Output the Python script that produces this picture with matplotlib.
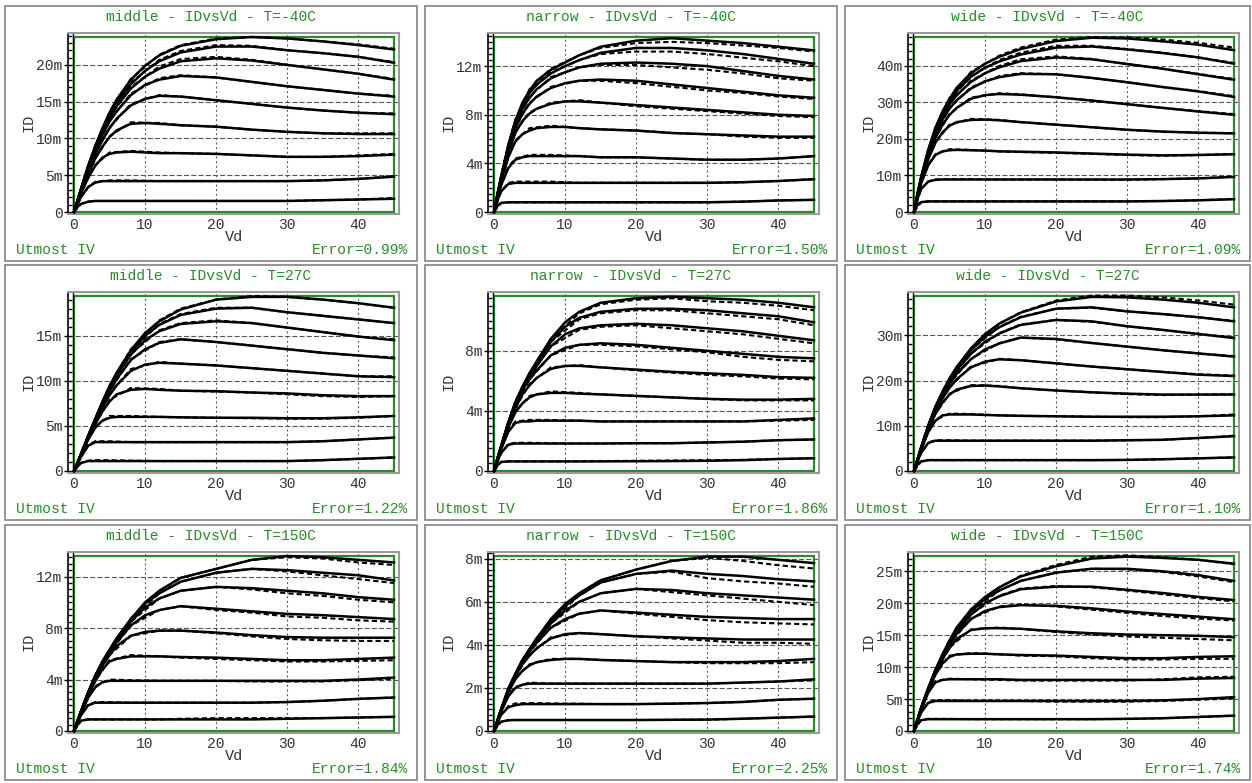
import matplotlib
matplotlib.use('Agg')
import matplotlib.pyplot as plt
from matplotlib.patches import Rectangle
from matplotlib.ticker import MultipleLocator

# Vd sample points (V) for the simulated and the measured curves
VD = [0, 0.5, 1, 2, 3, 4, 5, 6, 8, 10, 12, 15, 20, 25, 30, 35, 40, 45]
VD_MEAS = [0, 1, 2, 3, 5, 8, 12, 15, 20, 25, 30, 35, 40, 45]

# ID in mA, one list per gate step (top curve first)
MIDDLE_M40_SIM = [
    [0, 1.6, 3.2, 6.3, 9.0, 11.4, 13.5, 15.3, 18.0, 19.9, 21.3, 22.6, 23.5, 23.8, 23.6, 23.2, 22.7, 22.1],
    [0, 1.6, 3.2, 6.3, 8.9, 11.2, 13.2, 14.9, 17.4, 19.2, 20.5, 21.7, 22.5, 22.5, 22.0, 21.6, 21.1, 20.3],
    [0, 1.6, 3.1, 6.1, 8.7, 10.9, 12.8, 14.4, 16.8, 18.4, 19.5, 20.5, 20.9, 20.6, 20.0, 19.4, 18.8, 18.0],
    [0, 1.5, 3.0, 5.9, 8.4, 10.5, 12.3, 13.7, 15.9, 17.3, 18.0, 18.5, 18.3, 17.7, 17.1, 16.6, 16.1, 15.7],
    [0, 1.5, 2.9, 5.6, 7.9, 9.8, 11.4, 12.7, 14.5, 15.4, 15.8, 15.7, 15.2, 14.7, 14.2, 13.8, 13.5, 13.3],
    [0, 1.4, 2.8, 5.2, 7.3, 8.9, 10.2, 11.1, 12.0, 12.1, 12.0, 11.8, 11.6, 11.2, 10.9, 10.7, 10.6, 10.6],
    [0, 1.3, 2.6, 4.7, 6.3, 7.4, 7.9, 8.1, 8.2, 8.1, 8.0, 8.0, 7.9, 7.7, 7.5, 7.5, 7.6, 7.8],
    [0, 1.1, 2.1, 3.4, 4.0, 4.2, 4.2, 4.2, 4.2, 4.2, 4.2, 4.2, 4.2, 4.2, 4.2, 4.3, 4.5, 4.8],
    [0, 0.7, 1.1, 1.4, 1.5, 1.5, 1.5, 1.5, 1.5, 1.5, 1.5, 1.5, 1.5, 1.5, 1.5, 1.6, 1.7, 1.8],
]
MIDDLE_M40_MEAS = [
    [0, 3.1, 6.2, 9.0, 13.6, 18.1, 21.4, 22.7, 23.6, 23.8, 23.6, 23.2, 22.8, 22.2],
    [0, 3.1, 6.2, 8.9, 13.3, 17.6, 20.7, 21.9, 22.7, 22.6, 22.0, 21.6, 21.1, 20.4],
    [0, 3.0, 6.0, 8.7, 12.9, 17.0, 19.8, 20.8, 21.1, 20.7, 20.0, 19.4, 18.8, 18.1],
    [0, 2.9, 5.8, 8.4, 12.4, 16.1, 18.2, 18.6, 18.3, 17.7, 17.1, 16.6, 16.1, 15.8],
    [0, 2.8, 5.5, 7.9, 11.5, 14.7, 15.9, 15.7, 15.2, 14.7, 14.2, 13.8, 13.5, 13.4],
    [0, 2.7, 5.1, 7.3, 10.3, 12.2, 12.1, 11.8, 11.6, 11.2, 10.9, 10.7, 10.7, 10.7],
    [0, 2.5, 4.6, 6.4, 8.1, 8.3, 8.1, 8.0, 7.9, 7.7, 7.5, 7.5, 7.7, 7.9],
    [0, 2.0, 3.4, 4.1, 4.3, 4.3, 4.2, 4.2, 4.2, 4.2, 4.2, 4.3, 4.5, 4.9],
    [0, 1.1, 1.4, 1.5, 1.5, 1.5, 1.5, 1.5, 1.5, 1.5, 1.5, 1.6, 1.7, 1.9],
]

NARROW_M40_SIM = [
    [0, 1.5, 2.9, 5.5, 7.5, 9.0, 10.0, 10.8, 11.7, 12.3, 12.9, 13.6, 14.1, 14.3, 14.1, 13.9, 13.6, 13.3],
    [0, 1.5, 2.9, 5.4, 7.4, 8.8, 9.8, 10.5, 11.4, 12.0, 12.5, 13.1, 13.5, 13.5, 13.3, 13.0, 12.6, 12.2],
    [0, 1.5, 2.8, 5.3, 7.2, 8.5, 9.4, 10.1, 11.0, 11.5, 11.9, 12.2, 12.3, 12.2, 12.0, 11.6, 11.2, 10.9],
    [0, 1.4, 2.8, 5.1, 6.9, 8.1, 8.9, 9.5, 10.2, 10.6, 10.8, 10.9, 10.8, 10.5, 10.2, 9.9, 9.6, 9.4],
    [0, 1.4, 2.7, 4.9, 6.5, 7.5, 8.1, 8.5, 8.9, 9.1, 9.1, 9.0, 8.8, 8.6, 8.4, 8.2, 8.0, 7.9],
    [0, 1.3, 2.5, 4.5, 5.8, 6.4, 6.7, 6.9, 7.0, 7.0, 6.9, 6.8, 6.7, 6.5, 6.4, 6.3, 6.2, 6.2],
    [0, 1.2, 2.2, 3.6, 4.3, 4.5, 4.6, 4.6, 4.6, 4.6, 4.6, 4.5, 4.5, 4.4, 4.3, 4.3, 4.4, 4.6],
    [0, 1.0, 1.7, 2.3, 2.4, 2.4, 2.4, 2.4, 2.4, 2.4, 2.4, 2.4, 2.4, 2.4, 2.4, 2.45, 2.55, 2.7],
    [0, 0.5, 0.75, 0.8, 0.8, 0.8, 0.8, 0.8, 0.8, 0.8, 0.8, 0.8, 0.8, 0.8, 0.8, 0.85, 0.95, 1.0],
]
NARROW_M40_MEAS = [
    [0, 2.9, 5.5, 7.6, 10.1, 11.8, 12.9, 13.5, 13.9, 14.0, 13.9, 13.7, 13.5, 13.2],
    [0, 2.9, 5.4, 7.5, 9.9, 11.5, 12.5, 13.0, 13.2, 13.2, 13.0, 12.7, 12.4, 12.0],
    [0, 2.8, 5.3, 7.3, 9.5, 11.1, 11.9, 12.1, 12.1, 11.9, 11.7, 11.4, 11.0, 10.8],
    [0, 2.8, 5.1, 7.0, 9.0, 10.3, 10.8, 10.8, 10.6, 10.3, 10.0, 9.8, 9.5, 9.3],
    [0, 2.7, 4.9, 6.6, 8.2, 9.0, 9.2, 9.0, 8.7, 8.5, 8.3, 8.1, 7.9, 7.8],
    [0, 2.5, 4.5, 5.9, 6.9, 7.1, 6.9, 6.8, 6.7, 6.5, 6.4, 6.2, 6.1, 6.1],
    [0, 2.2, 3.7, 4.4, 4.7, 4.7, 4.6, 4.5, 4.5, 4.4, 4.3, 4.3, 4.4, 4.6],
    [0, 1.7, 2.4, 2.5, 2.5, 2.5, 2.4, 2.4, 2.4, 2.4, 2.4, 2.45, 2.55, 2.7],
    [0, 0.75, 0.8, 0.8, 0.8, 0.8, 0.8, 0.8, 0.8, 0.8, 0.8, 0.85, 0.95, 1.0],
]

WIDE_M40_SIM = [
    [0, 5.0, 9.5, 17.0, 23.0, 27.5, 31.0, 34.0, 38.0, 40.6, 42.5, 44.6, 46.8, 47.7, 47.5, 46.7, 45.8, 44.3],
    [0, 5.0, 9.4, 16.8, 22.6, 27.0, 30.4, 33.2, 37.0, 39.5, 41.2, 43.1, 45.0, 45.3, 44.5, 43.5, 42.3, 40.6],
    [0, 5.0, 9.3, 16.5, 22.0, 26.3, 29.5, 32.0, 35.6, 38.0, 39.6, 41.3, 42.3, 41.8, 40.5, 39.2, 37.7, 36.2],
    [0, 4.8, 9.1, 16.0, 21.3, 25.3, 28.3, 30.6, 33.8, 35.8, 36.9, 37.8, 37.7, 36.7, 35.5, 34.2, 33.0, 31.5],
    [0, 4.7, 8.9, 15.4, 20.3, 23.9, 26.6, 28.5, 31.0, 32.0, 32.3, 32.1, 31.4, 30.5, 29.5, 28.5, 27.5, 26.6],
    [0, 4.5, 8.5, 14.5, 18.9, 21.8, 23.6, 24.6, 25.2, 25.3, 25.1, 24.6, 23.9, 23.2, 22.5, 22.0, 21.7, 21.5],
    [0, 4.3, 7.9, 12.8, 15.6, 16.6, 16.9, 17.0, 16.9, 16.8, 16.6, 16.5, 16.3, 16.0, 15.7, 15.5, 15.6, 15.8],
    [0, 3.7, 6.3, 8.3, 8.8, 8.9, 8.9, 8.9, 8.9, 8.9, 8.9, 8.9, 8.9, 8.9, 8.9, 9.0, 9.2, 9.6],
    [0, 2.0, 2.7, 2.9, 2.9, 2.9, 2.9, 2.9, 2.9, 2.9, 2.9, 2.9, 2.9, 2.9, 2.9, 3.0, 3.2, 3.5],
]
WIDE_M40_MEAS = [
    [0, 9.4, 16.9, 23.0, 31.2, 38.3, 42.8, 45.0, 47.2, 47.9, 47.8, 47.2, 46.3, 45.0],
    [0, 9.3, 16.7, 22.6, 30.6, 37.3, 41.6, 43.6, 45.5, 45.5, 44.6, 43.6, 42.3, 40.8],
    [0, 9.2, 16.4, 22.0, 29.7, 36.0, 40.0, 41.8, 42.6, 41.9, 40.5, 39.2, 37.8, 36.4],
    [0, 9.0, 15.9, 21.3, 28.5, 34.1, 37.2, 38.0, 37.7, 36.7, 35.5, 34.2, 33.1, 31.7],
    [0, 8.8, 15.3, 20.3, 26.8, 31.3, 32.5, 32.2, 31.4, 30.5, 29.5, 28.5, 27.6, 26.8],
    [0, 8.4, 14.5, 19.0, 23.9, 25.5, 25.2, 24.6, 23.9, 23.2, 22.5, 22.0, 21.7, 21.6],
    [0, 7.8, 12.9, 15.8, 17.2, 17.0, 16.6, 16.4, 16.2, 15.9, 15.6, 15.4, 15.6, 15.9],
    [0, 6.3, 8.4, 8.9, 9.0, 9.0, 8.9, 8.9, 8.9, 8.8, 8.8, 9.0, 9.2, 9.7],
    [0, 2.7, 2.9, 2.9, 2.9, 2.9, 2.9, 2.9, 2.9, 2.9, 2.9, 3.0, 3.2, 3.6],
]

MIDDLE_27_SIM = [
    [0, 0.95, 1.9, 3.9, 5.8, 7.7, 9.4, 10.9, 13.4, 15.3, 16.6, 17.9, 19.0, 19.3, 19.3, 19.0, 18.6, 18.1],
    [0, 0.95, 1.9, 3.9, 5.8, 7.6, 9.3, 10.8, 13.2, 15.0, 16.2, 17.3, 18.0, 18.1, 17.6, 17.2, 16.8, 16.4],
    [0, 0.95, 1.9, 3.9, 5.7, 7.5, 9.1, 10.6, 12.9, 14.5, 15.5, 16.3, 16.6, 16.4, 15.9, 15.4, 14.9, 14.5],
    [0, 0.95, 1.9, 3.8, 5.6, 7.3, 8.8, 10.2, 12.3, 13.5, 14.2, 14.6, 14.3, 13.9, 13.5, 13.1, 12.8, 12.5],
    [0, 0.9, 1.85, 3.7, 5.4, 7.0, 8.4, 9.5, 11.1, 11.8, 12.0, 11.9, 11.7, 11.4, 11.1, 10.8, 10.5, 10.4],
    [0, 0.9, 1.8, 3.6, 5.2, 6.6, 7.7, 8.5, 9.0, 9.1, 9.0, 8.9, 8.85, 8.7, 8.6, 8.4, 8.3, 8.3],
    [0, 0.9, 1.8, 3.5, 4.8, 5.6, 5.9, 6.0, 6.0, 6.0, 6.0, 5.95, 5.9, 5.9, 5.85, 5.85, 5.95, 6.1],
    [0, 0.8, 1.6, 2.8, 3.2, 3.2, 3.2, 3.2, 3.2, 3.2, 3.2, 3.2, 3.2, 3.2, 3.2, 3.3, 3.5, 3.7],
    [0, 0.5, 0.9, 1.1, 1.1, 1.1, 1.1, 1.1, 1.1, 1.1, 1.1, 1.1, 1.1, 1.1, 1.1, 1.2, 1.35, 1.5],
]
MIDDLE_27_MEAS = [
    [0, 1.9, 3.9, 5.8, 9.5, 13.5, 16.7, 18.0, 19.0, 19.4, 19.3, 19.0, 18.6, 18.1],
    [0, 1.9, 3.9, 5.8, 9.4, 13.3, 16.3, 17.4, 18.1, 18.1, 17.6, 17.2, 16.8, 16.4],
    [0, 1.9, 3.9, 5.7, 9.2, 13.0, 15.6, 16.4, 16.7, 16.4, 15.9, 15.4, 14.9, 14.6],
    [0, 1.9, 3.8, 5.6, 8.9, 12.4, 14.3, 14.6, 14.3, 13.9, 13.5, 13.1, 12.8, 12.6],
    [0, 1.85, 3.7, 5.5, 8.6, 11.3, 12.1, 11.9, 11.7, 11.4, 11.1, 10.8, 10.5, 10.5],
    [0, 1.8, 3.6, 5.3, 7.9, 9.2, 9.1, 8.9, 8.8, 8.7, 8.5, 8.3, 8.2, 8.3],
    [0, 1.8, 3.5, 4.9, 6.1, 6.1, 6.0, 5.95, 5.9, 5.85, 5.8, 5.8, 5.9, 6.1],
    [0, 1.6, 2.9, 3.3, 3.3, 3.2, 3.2, 3.2, 3.2, 3.2, 3.2, 3.3, 3.5, 3.7],
    [0, 0.9, 1.15, 1.2, 1.2, 1.15, 1.1, 1.1, 1.1, 1.1, 1.1, 1.2, 1.35, 1.5],
]

NARROW_27_SIM = [
    [0, 0.85, 1.65, 3.2, 4.6, 5.6, 6.5, 7.3, 8.8, 9.9, 10.6, 11.2, 11.5, 11.6, 11.5, 11.4, 11.2, 10.9],
    [0, 0.85, 1.65, 3.2, 4.5, 5.6, 6.5, 7.2, 8.6, 9.6, 10.2, 10.6, 10.8, 10.8, 10.7, 10.5, 10.3, 9.9],
    [0, 0.85, 1.65, 3.2, 4.5, 5.5, 6.3, 7.0, 8.3, 9.1, 9.5, 9.7, 9.8, 9.7, 9.5, 9.3, 9.0, 8.7],
    [0, 0.85, 1.6, 3.1, 4.4, 5.4, 6.1, 6.7, 7.7, 8.2, 8.4, 8.5, 8.4, 8.2, 8.0, 7.8, 7.6, 7.5],
    [0, 0.8, 1.6, 3.0, 4.2, 5.1, 5.7, 6.2, 6.8, 7.0, 7.0, 6.9, 6.75, 6.6, 6.5, 6.4, 6.25, 6.2],
    [0, 0.8, 1.55, 2.9, 3.9, 4.5, 4.9, 5.1, 5.2, 5.2, 5.15, 5.1, 5.0, 4.9, 4.8, 4.75, 4.75, 4.8],
    [0, 0.75, 1.45, 2.6, 3.2, 3.3, 3.3, 3.35, 3.35, 3.35, 3.35, 3.3, 3.3, 3.3, 3.3, 3.3, 3.4, 3.5],
    [0, 0.7, 1.2, 1.75, 1.83, 1.83, 1.83, 1.83, 1.83, 1.83, 1.83, 1.83, 1.85, 1.85, 1.9, 1.95, 2.05, 2.1],
    [0, 0.4, 0.6, 0.64, 0.64, 0.64, 0.64, 0.64, 0.64, 0.64, 0.64, 0.64, 0.65, 0.66, 0.68, 0.72, 0.8, 0.85],
]
NARROW_27_MEAS = [
    [0, 1.65, 3.2, 4.6, 6.5, 8.8, 10.5, 11.1, 11.4, 11.5, 11.3, 11.2, 11.0, 10.7],
    [0, 1.65, 3.2, 4.5, 6.5, 8.6, 10.1, 10.5, 10.7, 10.7, 10.5, 10.3, 10.1, 9.7],
    [0, 1.65, 3.2, 4.5, 6.3, 8.3, 9.4, 9.6, 9.7, 9.5, 9.3, 9.1, 8.8, 8.5],
    [0, 1.6, 3.1, 4.4, 6.1, 7.7, 8.4, 8.4, 8.3, 8.1, 7.9, 7.6, 7.4, 7.3],
    [0, 1.6, 3.0, 4.2, 5.8, 6.9, 7.05, 6.9, 6.7, 6.55, 6.4, 6.3, 6.15, 6.1],
    [0, 1.55, 2.9, 4.0, 5.0, 5.3, 5.2, 5.1, 5.0, 4.9, 4.8, 4.7, 4.7, 4.7],
    [0, 1.45, 2.7, 3.3, 3.4, 3.4, 3.35, 3.3, 3.3, 3.3, 3.3, 3.3, 3.35, 3.4],
    [0, 1.2, 1.8, 1.88, 1.88, 1.85, 1.83, 1.83, 1.85, 1.85, 1.9, 1.95, 2.05, 2.1],
    [0, 0.6, 0.64, 0.64, 0.64, 0.64, 0.64, 0.66, 0.68, 0.7, 0.72, 0.74, 0.8, 0.85],
]

WIDE_27_SIM = [
    [0, 2.6, 5.2, 10.0, 14.2, 17.5, 20.5, 23.0, 27.1, 30.3, 32.6, 35.0, 37.5, 38.5, 38.4, 37.9, 37.2, 36.2],
    [0, 2.6, 5.2, 10.0, 14.1, 17.4, 20.3, 22.8, 26.7, 29.7, 31.8, 34.0, 35.9, 36.2, 35.3, 34.7, 34.0, 33.1],
    [0, 2.6, 5.1, 9.9, 13.9, 17.1, 19.9, 22.3, 25.9, 28.6, 30.4, 32.3, 33.4, 33.1, 32.0, 31.2, 30.3, 29.4],
    [0, 2.6, 5.1, 9.7, 13.6, 16.7, 19.3, 21.5, 24.7, 26.9, 28.2, 29.5, 29.2, 28.3, 27.5, 26.7, 26.0, 25.3],
    [0, 2.5, 5.0, 9.5, 13.2, 16.1, 18.4, 20.3, 22.9, 24.2, 24.7, 24.5, 23.8, 23.1, 22.5, 21.9, 21.3, 21.0],
    [0, 2.5, 4.9, 9.2, 12.6, 15.1, 16.9, 18.0, 18.8, 18.9, 18.7, 18.3, 17.8, 17.4, 17.1, 16.9, 16.9, 16.9],
    [0, 2.4, 4.7, 8.6, 11.1, 12.3, 12.5, 12.5, 12.5, 12.4, 12.3, 12.2, 12.1, 12.0, 12.0, 12.0, 12.1, 12.3],
    [0, 2.2, 4.0, 6.2, 6.7, 6.7, 6.7, 6.7, 6.7, 6.7, 6.7, 6.7, 6.7, 6.7, 6.8, 6.9, 7.3, 7.7],
    [0, 1.4, 2.1, 2.4, 2.4, 2.4, 2.4, 2.4, 2.4, 2.4, 2.4, 2.4, 2.4, 2.4, 2.45, 2.6, 2.8, 3.0],
]
WIDE_27_MEAS = [
    [0, 5.2, 10.0, 14.2, 20.5, 27.1, 32.6, 35.1, 37.7, 38.8, 38.8, 38.4, 37.7, 36.8],
    [0, 5.2, 10.0, 14.1, 20.3, 26.8, 31.9, 34.1, 35.9, 36.1, 35.3, 34.7, 34.0, 33.2],
    [0, 5.1, 9.9, 13.9, 20.0, 26.0, 30.5, 32.4, 33.4, 33.0, 32.0, 31.2, 30.3, 29.5],
    [0, 5.1, 9.7, 13.6, 19.4, 24.8, 28.3, 29.5, 29.1, 28.3, 27.5, 26.7, 26.0, 25.4],
    [0, 5.0, 9.5, 13.3, 18.6, 23.1, 24.8, 24.5, 23.8, 23.1, 22.5, 21.9, 21.4, 21.1],
    [0, 4.9, 9.2, 12.7, 17.1, 19.0, 18.8, 18.3, 17.8, 17.4, 17.0, 16.8, 16.9, 17.0],
    [0, 4.7, 8.7, 11.3, 12.7, 12.6, 12.3, 12.2, 12.1, 12.0, 11.9, 11.9, 12.1, 12.5],
    [0, 4.0, 6.3, 6.8, 6.8, 6.7, 6.7, 6.7, 6.7, 6.7, 6.8, 6.9, 7.3, 7.8],
    [0, 2.1, 2.4, 2.4, 2.4, 2.4, 2.4, 2.4, 2.4, 2.4, 2.45, 2.6, 2.8, 3.0],
]

MIDDLE_150_SIM = [
    [0, 0.78, 1.55, 3.0, 4.3, 5.4, 6.3, 7.2, 8.7, 10.0, 10.9, 11.9, 12.6, 13.3, 13.6, 13.5, 13.3, 13.1],
    [0, 0.78, 1.55, 3.0, 4.3, 5.4, 6.3, 7.2, 8.7, 9.9, 10.7, 11.6, 12.3, 12.6, 12.5, 12.3, 12.1, 11.7],
    [0, 0.78, 1.55, 3.0, 4.3, 5.3, 6.2, 7.1, 8.5, 9.6, 10.3, 10.9, 11.2, 11.1, 10.9, 10.7, 10.4, 10.2],
    [0, 0.78, 1.55, 3.0, 4.2, 5.2, 6.1, 6.9, 8.2, 9.0, 9.4, 9.7, 9.5, 9.3, 9.1, 9.0, 8.85, 8.7],
    [0, 0.78, 1.5, 2.9, 4.1, 5.1, 5.9, 6.6, 7.4, 7.7, 7.8, 7.8, 7.65, 7.45, 7.3, 7.25, 7.25, 7.25],
    [0, 0.75, 1.5, 2.8, 3.9, 4.8, 5.4, 5.6, 5.8, 5.8, 5.8, 5.75, 5.7, 5.6, 5.5, 5.5, 5.6, 5.7],
    [0, 0.7, 1.4, 2.6, 3.4, 3.8, 3.9, 3.9, 3.9, 3.9, 3.9, 3.9, 3.9, 3.9, 3.9, 3.9, 4.0, 4.15],
    [0, 0.65, 1.25, 2.0, 2.2, 2.2, 2.2, 2.2, 2.2, 2.2, 2.2, 2.2, 2.2, 2.2, 2.25, 2.35, 2.5, 2.6],
    [0, 0.5, 0.8, 0.9, 0.9, 0.9, 0.9, 0.9, 0.9, 0.9, 0.9, 0.9, 0.9, 0.9, 0.95, 1.0, 1.05, 1.1],
]
MIDDLE_150_MEAS = [
    [0, 1.55, 3.0, 4.3, 6.3, 8.7, 10.9, 11.9, 12.6, 13.3, 13.5, 13.4, 13.1, 12.9],
    [0, 1.55, 3.0, 4.3, 6.3, 8.7, 10.7, 11.6, 12.3, 12.6, 12.4, 12.1, 11.8, 11.5],
    [0, 1.55, 3.0, 4.3, 6.2, 8.5, 10.3, 10.9, 11.2, 11.0, 10.7, 10.5, 10.2, 10.0],
    [0, 1.55, 3.0, 4.2, 6.1, 8.2, 9.4, 9.7, 9.4, 9.2, 8.9, 8.8, 8.6, 8.5],
    [0, 1.5, 2.9, 4.1, 5.9, 7.4, 7.8, 7.8, 7.6, 7.35, 7.15, 7.05, 7.0, 7.0],
    [0, 1.5, 2.8, 3.9, 5.5, 5.9, 5.8, 5.7, 5.6, 5.5, 5.4, 5.4, 5.45, 5.5],
    [0, 1.4, 2.6, 3.5, 4.0, 3.95, 3.9, 3.9, 3.9, 3.85, 3.85, 3.85, 3.95, 4.05],
    [0, 1.25, 2.05, 2.25, 2.25, 2.2, 2.2, 2.2, 2.2, 2.2, 2.25, 2.35, 2.5, 2.6],
    [0, 0.8, 0.9, 0.9, 0.9, 0.9, 0.9, 0.95, 1.0, 1.0, 1.0, 1.0, 1.05, 1.1],
]

NARROW_150_SIM = [
    [0, 0.5, 1.0, 1.95, 2.65, 3.3, 3.8, 4.3, 5.2, 5.9, 6.4, 7.0, 7.5, 7.9, 8.1, 8.1, 7.95, 7.8],
    [0, 0.5, 1.0, 1.95, 2.65, 3.3, 3.8, 4.3, 5.1, 5.8, 6.3, 6.9, 7.3, 7.45, 7.3, 7.2, 7.05, 6.95],
    [0, 0.5, 1.0, 1.9, 2.6, 3.2, 3.75, 4.2, 5.0, 5.6, 6.0, 6.4, 6.6, 6.55, 6.4, 6.3, 6.2, 6.1],
    [0, 0.5, 1.0, 1.9, 2.6, 3.2, 3.7, 4.1, 4.8, 5.2, 5.45, 5.6, 5.5, 5.4, 5.3, 5.25, 5.2, 5.2],
    [0, 0.5, 0.98, 1.85, 2.55, 3.1, 3.5, 3.85, 4.3, 4.5, 4.55, 4.5, 4.4, 4.35, 4.3, 4.25, 4.25, 4.25],
    [0, 0.48, 0.95, 1.8, 2.4, 2.8, 3.05, 3.2, 3.3, 3.35, 3.35, 3.3, 3.25, 3.2, 3.2, 3.2, 3.25, 3.35],
    [0, 0.45, 0.9, 1.6, 2.0, 2.15, 2.2, 2.2, 2.2, 2.2, 2.2, 2.2, 2.2, 2.2, 2.2, 2.25, 2.3, 2.4],
    [0, 0.4, 0.75, 1.1, 1.2, 1.25, 1.25, 1.25, 1.25, 1.25, 1.25, 1.25, 1.25, 1.27, 1.3, 1.35, 1.45, 1.5],
    [0, 0.28, 0.43, 0.5, 0.51, 0.51, 0.51, 0.51, 0.51, 0.51, 0.51, 0.51, 0.51, 0.52, 0.53, 0.57, 0.62, 0.67],
]
NARROW_150_MEAS = [
    [0, 1.0, 1.95, 2.65, 3.8, 5.2, 6.4, 7.0, 7.5, 7.9, 8.05, 7.9, 7.7, 7.55],
    [0, 1.0, 1.95, 2.65, 3.8, 5.1, 6.3, 6.9, 7.3, 7.4, 7.1, 6.95, 6.85, 6.7],
    [0, 1.0, 1.9, 2.6, 3.75, 5.0, 6.0, 6.4, 6.6, 6.45, 6.3, 6.15, 6.0, 5.85],
    [0, 1.0, 1.9, 2.6, 3.7, 4.8, 5.45, 5.6, 5.45, 5.3, 5.15, 5.05, 5.0, 4.95],
    [0, 0.98, 1.85, 2.55, 3.55, 4.35, 4.55, 4.5, 4.4, 4.3, 4.2, 4.1, 4.1, 4.05],
    [0, 0.95, 1.8, 2.45, 3.1, 3.35, 3.35, 3.3, 3.25, 3.2, 3.15, 3.15, 3.15, 3.2],
    [0, 0.9, 1.65, 2.05, 2.25, 2.2, 2.2, 2.2, 2.2, 2.2, 2.2, 2.25, 2.3, 2.35],
    [0, 0.75, 1.15, 1.28, 1.3, 1.28, 1.27, 1.25, 1.25, 1.27, 1.3, 1.35, 1.45, 1.5],
    [0, 0.43, 0.5, 0.51, 0.51, 0.51, 0.51, 0.51, 0.51, 0.52, 0.53, 0.57, 0.62, 0.67],
]

WIDE_150_SIM = [
    [0, 1.8, 3.6, 6.7, 9.5, 12.0, 14.2, 16.2, 19.0, 21.0, 22.5, 24.2, 25.8, 27.0, 27.3, 27.1, 26.8, 26.2],
    [0, 1.8, 3.6, 6.7, 9.5, 11.9, 14.0, 15.9, 18.7, 20.7, 22.0, 23.5, 24.8, 25.4, 25.4, 25.0, 24.4, 23.5],
    [0, 1.8, 3.6, 6.6, 9.4, 11.8, 13.8, 15.6, 18.2, 20.0, 21.1, 22.2, 22.6, 22.6, 22.1, 21.6, 21.0, 20.5],
    [0, 1.8, 3.6, 6.6, 9.3, 11.6, 13.5, 15.2, 17.5, 18.8, 19.4, 19.7, 19.6, 19.2, 18.7, 18.3, 17.9, 17.5],
    [0, 1.8, 3.5, 6.5, 9.1, 11.3, 13.0, 14.4, 15.8, 16.1, 16.1, 16.0, 15.6, 15.3, 15.1, 15.0, 14.9, 14.7],
    [0, 1.75, 3.4, 6.3, 8.8, 10.6, 11.6, 12.0, 12.1, 12.1, 12.0, 11.9, 11.8, 11.6, 11.4, 11.4, 11.6, 11.7],
    [0, 1.7, 3.3, 6.0, 7.6, 8.0, 8.1, 8.1, 8.1, 8.1, 8.1, 8.0, 8.0, 8.0, 8.0, 8.0, 8.2, 8.3],
    [0, 1.5, 2.9, 4.4, 4.7, 4.7, 4.7, 4.7, 4.7, 4.7, 4.7, 4.7, 4.7, 4.7, 4.7, 4.8, 5.0, 5.3],
    [0, 1.1, 1.7, 1.85, 1.85, 1.85, 1.85, 1.85, 1.85, 1.85, 1.85, 1.85, 1.85, 1.85, 1.9, 2.0, 2.2, 2.4],
]
WIDE_150_MEAS = [
    [0, 3.6, 6.7, 9.5, 14.2, 19.0, 22.5, 24.3, 26.0, 27.3, 27.5, 27.2, 26.8, 26.1],
    [0, 3.6, 6.7, 9.5, 14.0, 18.7, 22.0, 23.5, 24.8, 25.4, 25.3, 24.9, 24.2, 23.3],
    [0, 3.6, 6.6, 9.4, 13.8, 18.3, 21.2, 22.3, 22.7, 22.5, 22.0, 21.4, 20.8, 20.3],
    [0, 3.6, 6.6, 9.3, 13.6, 17.6, 19.5, 19.8, 19.5, 19.0, 18.5, 18.0, 17.6, 17.3],
    [0, 3.5, 6.5, 9.1, 13.1, 15.9, 16.2, 16.0, 15.5, 15.1, 14.8, 14.6, 14.4, 14.2],
    [0, 3.4, 6.3, 8.9, 11.8, 12.2, 12.0, 11.8, 11.7, 11.4, 11.2, 11.2, 11.3, 11.3],
    [0, 3.3, 6.1, 7.8, 8.2, 8.1, 8.0, 7.9, 7.9, 7.9, 7.9, 8.1, 8.4, 8.5],
    [0, 2.9, 4.5, 4.8, 4.8, 4.7, 4.7, 4.7, 4.6, 4.6, 4.6, 4.7, 4.9, 5.1],
    [0, 1.7, 1.9, 1.9, 1.9, 1.85, 1.85, 1.85, 1.85, 1.85, 1.9, 2.0, 2.2, 2.4],
]

TITLES = [
    ['middle - IDvsVd - T=-40C', 'narrow - IDvsVd - T=-40C', 'wide - IDvsVd - T=-40C'],
    ['middle - IDvsVd - T=27C', 'narrow - IDvsVd - T=27C', 'wide - IDvsVd - T=27C'],
    ['middle - IDvsVd - T=150C', 'narrow - IDvsVd - T=150C', 'wide - IDvsVd - T=150C'],
]
ERRORS = [
    ['Error=0.99%', 'Error=1.50%', 'Error=1.09%'],
    ['Error=1.22%', 'Error=1.86%', 'Error=1.10%'],
    ['Error=1.84%', 'Error=2.25%', 'Error=1.74%'],
]
YMAX = [[23.8, 14.4, 47.9], [19.4, 11.65, 38.7], [13.6, 8.13, 27.4]]
YTICKS = [
    [[0, 5, 10, 15, 20], [0, 4, 8, 12], [0, 10, 20, 30, 40]],
    [[0, 5, 10, 15], [0, 4, 8], [0, 10, 20, 30]],
    [[0, 4, 8, 12], [0, 2, 4, 6, 8], [0, 5, 10, 15, 20, 25]],
]
YMINOR = [[1, 0.5, 2], [1, 0.5, 2], [0.5, 0.25, 1]]
XTICKS = [0, 10, 20, 30, 40]

SIM = [
    [MIDDLE_M40_SIM, NARROW_M40_SIM, WIDE_M40_SIM],
    [MIDDLE_27_SIM, NARROW_27_SIM, WIDE_27_SIM],
    [MIDDLE_150_SIM, NARROW_150_SIM, WIDE_150_SIM],
]
MEAS = [
    [MIDDLE_M40_MEAS, NARROW_M40_MEAS, WIDE_M40_MEAS],
    [MIDDLE_27_MEAS, NARROW_27_MEAS, WIDE_27_MEAS],
    [MIDDLE_150_MEAS, NARROW_150_MEAS, WIDE_150_MEAS],
]

W, H = 1252, 783
GREEN = '#2b8a2b'
FONT = 'Liberation Mono'
TXT = '#333333'

# panel boxes in pixels
PANEL_X = [5, 425, 845]
PANEL_W = [412, 412, 405]
PANEL_Y = [6, 265, 525]
PANEL_H = 255


def fx(px):
    return px / W


def fy(py):
    return 1 - py / H


fig = plt.figure(figsize=(W / 100, H / 100), dpi=100)

for r in range(3):
    for c in range(3):
        x0, y0, pw = PANEL_X[c], PANEL_Y[r], PANEL_W[c]
        ymax = YMAX[r][c]

        fig.add_artist(Rectangle((fx(x0), fy(y0 + PANEL_H)), pw / W, PANEL_H / H,
                                 transform=fig.transFigure, fill=False,
                                 edgecolor='#8c8c8c', lw=1.3))

        ax = fig.add_axes([fx(x0 + 63), fy(y0 + 208), 331 / W, 181 / H])
        ax.set_xlim(-6 / (320 / 45), 45 + 5 / (320 / 45))
        ax.set_ylim(-ymax * 2 / 175, ymax * (1 + 4 / 175))

        # grid
        for v in YTICKS[r][c][1:]:
            ax.axhline(v, color='#555555', lw=0.8, dashes=(4.5, 2), zorder=1)
        for v in XTICKS[1:]:
            ax.axvline(v, color='#555555', lw=0.8, dashes=(1.8, 2.4), zorder=1)

        ax.add_patch(Rectangle((0, 0), 45, ymax, fill=False, edgecolor=GREEN,
                               lw=1.6, zorder=2))
        ax.axvline(-0.2, color='k', lw=1.0, zorder=2)

        for curve in SIM[r][c]:
            ax.plot(VD, curve, color='k', lw=1.8, zorder=3)
        for curve in MEAS[r][c]:
            ax.plot(VD_MEAS, curve, color='k', lw=1.5, dashes=(2.5, 1.5), zorder=4)

        ax.set_xticks(XTICKS)
        ax.set_xticklabels([str(v) for v in XTICKS])
        ax.set_yticks(YTICKS[r][c])
        ax.set_yticklabels(['0'] + [f'{v}m' for v in YTICKS[r][c][1:]])
        ax.xaxis.set_minor_locator(MultipleLocator(2))
        ax.yaxis.set_minor_locator(MultipleLocator(YMINOR[r][c]))
        ax.tick_params(axis='x', which='both', direction='in', length=1.8,
                       width=1, color='k', pad=3, labelsize=10.5, labelcolor=TXT)
        ax.tick_params(axis='y', which='minor', direction='in', length=3.2,
                       width=1, color='k')
        ax.tick_params(axis='y', which='major', direction='inout', length=6,
                       width=1, color='k', pad=1, labelsize=10.5, labelcolor=TXT)
        for lab in ax.get_xticklabels() + ax.get_yticklabels():
            lab.set_fontfamily(FONT)

        for side in ['top', 'right', 'bottom']:
            ax.spines[side].set_color('#9a9a9a')
            ax.spines[side].set_linewidth(1.5)
        ax.spines['left'].set_color('k')
        ax.spines['left'].set_linewidth(1.2)

        fig.text(fx(x0 + pw / 2), fy(y0 + 11), TITLES[r][c], ha='center',
                 va='center', color=GREEN, family=FONT, fontsize=10.5)
        fig.text(fx(x0 + 63 + 6 + 160), fy(y0 + 231), 'Vd', ha='center',
                 va='center', color=TXT, family=FONT, fontsize=11)
        fig.text(fx(x0 + 23), fy(y0 + 117), 'ID', ha='center', va='center',
                 rotation=90, color=TXT, family=FONT, fontsize=11)
        fig.text(fx(x0 + 11), fy(y0 + 244), 'Utmost IV', ha='left',
                 va='center', color=GREEN, family=FONT, fontsize=10.5)
        fig.text(fx(x0 + pw - 9), fy(y0 + 244), ERRORS[r][c], ha='right',
                 va='center', color=GREEN, family=FONT, fontsize=10.5)

fig.savefig('out.png', dpi=100)
